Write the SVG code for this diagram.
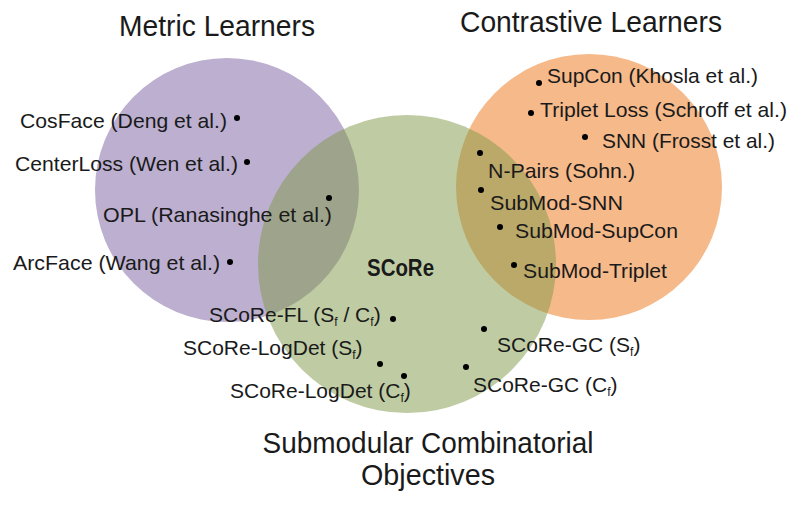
<svg xmlns="http://www.w3.org/2000/svg" width="800" height="508" viewBox="0 0 800 508">
<style>
text{font-family:"Liberation Sans",Arial,sans-serif;fill:#1a1a1a}
.title{font-size:29px}
.lbl{font-size:21px}
.sub{font-size:12px}
.dot{fill:#000}
</style>
<rect width="800" height="508" fill="#fff"/>
<g id="sets">
<circle id="metric" cx="227" cy="190" r="132" fill="#BCAFCF"/>
<circle id="contrastive" cx="589" cy="187" r="133" fill="#F5B98A"/>
<circle id="submodular" cx="407" cy="264" r="149" fill="#7F9947" fill-opacity="0.5"/>
</g>
<g id="titles">
<text class="title" x="119" y="36" textLength="196" lengthAdjust="spacingAndGlyphs">Metric Learners</text>
<text class="title" x="460" y="32" textLength="262" lengthAdjust="spacingAndGlyphs">Contrastive Learners</text>
<text class="title" x="428" y="453" text-anchor="middle" textLength="331" lengthAdjust="spacingAndGlyphs">Submodular Combinatorial</text>
<text class="title" x="428" y="485" text-anchor="middle" textLength="134" lengthAdjust="spacingAndGlyphs">Objectives</text>
<text x="367" y="276" font-size="24" font-weight="bold" textLength="67" lengthAdjust="spacingAndGlyphs">SCoRe</text>
</g>
<g id="cosface"><text class="lbl" x="20" y="128" textLength="207" lengthAdjust="spacingAndGlyphs">CosFace (Deng et al.)</text><circle class="dot" cx="237" cy="118" r="3"/></g>
<g id="centerloss"><text class="lbl" x="15" y="171" textLength="223" lengthAdjust="spacingAndGlyphs">CenterLoss (Wen et al.)</text><circle class="dot" cx="247" cy="162" r="3"/></g>
<g id="opl"><text class="lbl" x="103" y="222" textLength="229" lengthAdjust="spacingAndGlyphs">OPL (Ranasinghe et al.)</text><circle class="dot" cx="329" cy="198" r="3"/></g>
<g id="arcface"><text class="lbl" x="13" y="270" textLength="207" lengthAdjust="spacingAndGlyphs">ArcFace (Wang et al.)</text><circle class="dot" cx="230" cy="262" r="3"/></g>
<g id="supcon"><text class="lbl" x="547" y="83" textLength="211" lengthAdjust="spacingAndGlyphs">SupCon (Khosla et al.)</text><circle class="dot" cx="539" cy="83" r="3"/></g>
<g id="triplet"><text class="lbl" x="540" y="117" textLength="247" lengthAdjust="spacingAndGlyphs">Triplet Loss (Schroff et al.)</text><circle class="dot" cx="531" cy="113" r="3"/></g>
<g id="snn"><text class="lbl" x="602" y="148" textLength="173" lengthAdjust="spacingAndGlyphs">SNN (Frosst et al.)</text><circle class="dot" cx="585" cy="137" r="3"/></g>
<g id="npairs"><text class="lbl" x="488" y="178" textLength="147" lengthAdjust="spacingAndGlyphs">N-Pairs (Sohn.)</text><circle class="dot" cx="480" cy="153" r="3"/></g>
<g id="submod-snn"><text class="lbl" x="490" y="210" textLength="133" lengthAdjust="spacingAndGlyphs">SubMod-SNN</text><circle class="dot" cx="481" cy="190" r="3"/></g>
<g id="submod-supcon"><text class="lbl" x="515" y="238" textLength="163" lengthAdjust="spacingAndGlyphs">SubMod-SupCon</text><circle class="dot" cx="500" cy="227" r="3"/></g>
<g id="submod-triplet"><text class="lbl" x="523" y="278" textLength="144" lengthAdjust="spacingAndGlyphs">SubMod-Triplet</text><circle class="dot" cx="514" cy="265" r="3"/></g>
<g id="score-fl"><text class="lbl" x="209" y="322">SCoRe-FL (S<tspan class="sub" dy="4">f</tspan><tspan dy="-4"> / C</tspan><tspan class="sub" dy="4">f</tspan><tspan dy="-4">)</tspan></text><circle class="dot" cx="393" cy="319" r="3"/></g>
<g id="score-logdet-s"><text class="lbl" x="183" y="355">SCoRe-LogDet (S<tspan class="sub" dy="4">f</tspan><tspan dy="-4">)</tspan></text><circle class="dot" cx="380" cy="364" r="3"/></g>
<g id="score-logdet-c"><text class="lbl" x="230" y="398">SCoRe-LogDet (C<tspan class="sub" dy="4">f</tspan><tspan dy="-4">)</tspan></text><circle class="dot" cx="404" cy="376" r="3"/></g>
<g id="score-gc-s"><text class="lbl" x="497" y="352">SCoRe-GC (S<tspan class="sub" dy="4">f</tspan><tspan dy="-4">)</tspan></text><circle class="dot" cx="484" cy="329" r="3"/></g>
<g id="score-gc-c"><text class="lbl" x="473" y="392">SCoRe-GC (C<tspan class="sub" dy="4">f</tspan><tspan dy="-4">)</tspan></text><circle class="dot" cx="466" cy="367" r="3"/></g>
<g id="connectors"/>
</svg>
